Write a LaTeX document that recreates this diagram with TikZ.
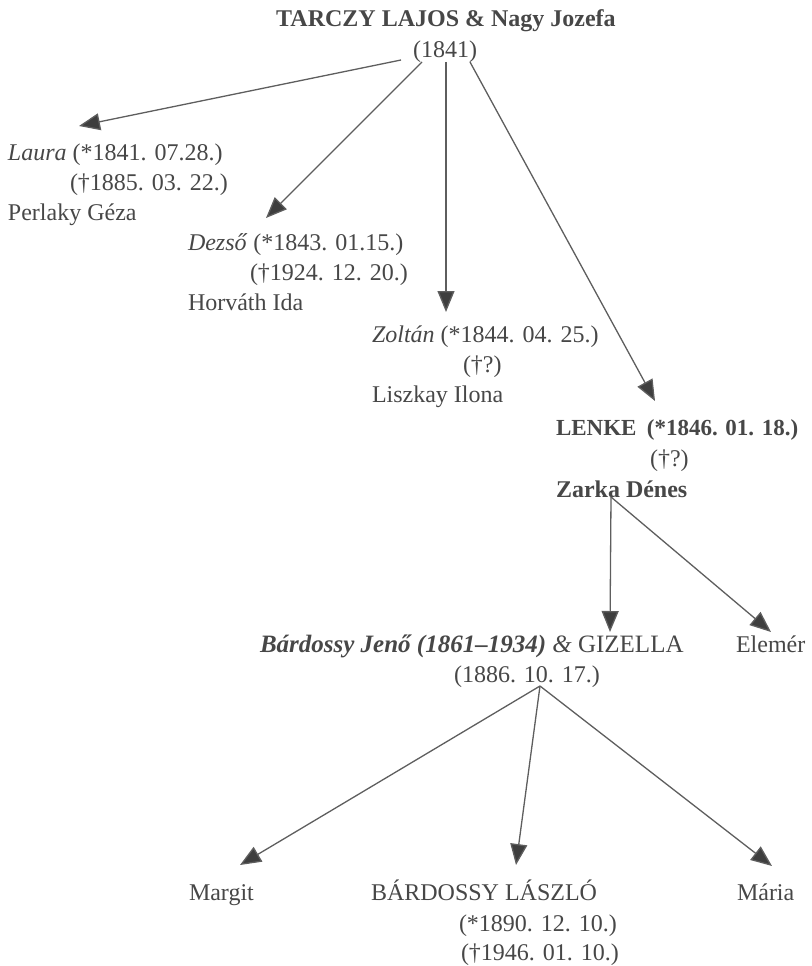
\documentclass[tikz,border=0pt]{standalone}
\usepackage{fontspec}
\setmainfont{Liberation Serif}
\usetikzlibrary{arrows.meta}
\definecolor{inkc}{HTML}{474747}
\definecolor{linec}{HTML}{5E5E5E}
\definecolor{tipc}{HTML}{3E3E3E}
\begin{document}
\begin{tikzpicture}[x=1pt,y=-1pt,
  txt/.style={inner sep=0pt,outer sep=0pt,text=inkc,font=\fontsize{24}{30}\selectfont},
  lft/.style={txt,anchor=base west},
  ctr/.style={txt,anchor=base},
  link/.style={draw=linec,line width=1.3pt,-{Triangle[length=21pt,width=17pt,fill=tipc]}}]
\useasboundingbox (0,0) rectangle (811,966);
% generation 0
\node[ctr] (title) at (446,27) {\bfseries TARCZY LAJOS \& Nagy Jozefa};
\node[ctr] (y1841) at (445,57) {(1841)};
% children
\node[lft] (laura) at (8,160) {\textit{Laura} (*1841. 07.28.)};
\node[lft] (laurad) at (70,190) {(†1885. 03. 22.)};
\node[lft] (perlaky) at (8,220) {Perlaky Géza};
\node[lft] (dezso) at (188,250) {\textit{Dezső} (*1843. 01.15.)};
\node[lft] (dezsod) at (250,280) {(†1924. 12. 20.)};
\node[lft] (horvath) at (188,310) {Horváth Ida};
\node[lft] (zoltan) at (372,342) {\textit{Zoltán} (*1844. 04. 25.)};
\node[lft] (zoltand) at (463,372) {(†?)};
\node[lft] (liszkay) at (372,402) {Liszkay Ilona};
\node[lft,font=\fontsize{23}{30}\selectfont] (lenke) at (556,435) {\bfseries LENKE\hspace{0.45em}(*1846. 01. 18.)};
\node[lft] (lenked) at (650,466) {(†?)};
\node[lft] (zarka) at (556,497) {\bfseries Zarka Dénes};
% grandchildren
\node[lft,font=\fontsize{25}{30}\selectfont] (gizella) at (260,652) {\textbf{\textit{Bárdossy Jenő (1861–1934)}} \textit{\&} GIZELLA};
\node[lft] (elemer) at (736,652) {Elemér};
\node[ctr] (y1886) at (527,682) {(1886. 10. 17.)};
% great-grandchildren
\node[lft] (margit) at (189,900) {Margit};
\node[lft] (laszlo) at (371,900) {BÁRDOSSY LÁSZLÓ};
\node[lft] (maria) at (737,900) {Mária};
\node[lft] (laszlob) at (459,931) {(*1890. 12. 10.)};
\node[lft] (laszlod) at (461,960) {(†1946. 01. 10.)};
% connector ends
\coordinate (r1) at (401,60);
\coordinate (r2) at (422,62);
\coordinate (r3) at (446,62);
\coordinate (r4) at (470,62);
\coordinate (tlaura) at (79,126);
\coordinate (tdezso) at (266,218);
\coordinate (tzoltan) at (446,312);
\coordinate (tlenke) at (655,401);
\coordinate (zk) at (611,497);
\coordinate (tgiz) at (610,632);
\coordinate (telem) at (771,632);
\coordinate (gz) at (540,686);
\coordinate (tmargit) at (240,865);
\coordinate (tlaszlo) at (516,865);
\coordinate (tmaria) at (772,866);
\draw[link] (r1) -- (tlaura);
\draw[link] (r2) -- (tdezso);
\draw[link] (r3) -- (tzoltan);
\draw[link] (r4) -- (tlenke);
\draw[link] (zk) -- (tgiz);
\draw[link] (zk) -- (telem);
\draw[link] (gz) -- (tmargit);
\draw[link] (gz) -- (tlaszlo);
\draw[link] (gz) -- (tmaria);
\end{tikzpicture}
\end{document}
